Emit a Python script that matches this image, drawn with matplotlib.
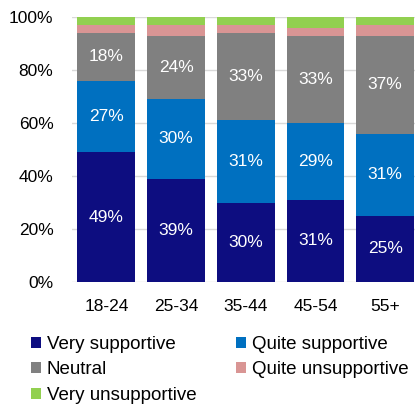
import numpy as np
import matplotlib.pyplot as plt

plt.rcParams['font.family'] = ['Liberation Sans', 'DejaVu Sans']

age_groups = ['18-24', '25-34', '35-44', '45-54', '55+']
very_supportive = [49, 39, 30, 31, 25]
quite_supportive = [27, 30, 31, 29, 31]
neutral = [18, 24, 33, 33, 37]
quite_unsupportive = [3, 4, 3, 3, 4]
very_unsupportive = [3, 3, 3, 4, 3]

series = [
    ('Very supportive', very_supportive, '#0D0D80', True),
    ('Quite supportive', quite_supportive, '#0070C0', True),
    ('Neutral', neutral, '#808080', True),
    ('Quite unsupportive', quite_unsupportive, '#D99594', False),
    ('Very unsupportive', very_unsupportive, '#92D050', False),
]

fig = plt.figure(figsize=(4.15, 4.07), dpi=100)
ax = fig.add_axes([71.5 / 415, 125 / 407, 348.5 / 415, 265 / 407])

x = np.arange(len(age_groups))
bottom = np.zeros(len(age_groups))
handles = []
for name, vals, color, show in series:
    vals = np.array(vals, dtype=float)
    bars = ax.bar(x, vals, bottom=bottom, width=0.83, color=color,
                  label=name, zorder=3)
    handles.append(bars)
    if show:
        for xi, b, v in zip(x, bottom, vals):
            ax.text(xi, b + v / 2, f'{int(v)}%', ha='center', va='center',
                    color='white', fontsize=12.5, zorder=4)
    bottom += vals

ax.set_xlim(-0.5, len(age_groups) - 0.5)
ax.set_ylim(0, 100)
ax.set_yticks(range(0, 101, 20))
ax.set_yticklabels([f'{v}%' for v in range(0, 101, 20)])
ax.set_xticks(x)
ax.set_xticklabels(age_groups)
ax.tick_params(axis='both', length=0, labelsize=12.5)
ax.tick_params(axis='y', pad=13)
ax.tick_params(axis='x', pad=12)
ax.grid(axis='y', color='#D9D9D9', linewidth=1, zorder=0)
for s in ax.spines.values():
    s.set_visible(False)

# legend fills column by column, so order the handles to read row by row
order = [0, 2, 4, 1, 3]
fig.legend(handles=[handles[i] for i in order], loc='upper left',
           bbox_to_anchor=(31 / 415, 1 - 336 / 407),
           ncol=2, frameon=False, fontsize=13.5, handlelength=0.55,
           handleheight=0.55, handletextpad=0.3, columnspacing=2.1,
           labelspacing=0.45, borderaxespad=0, borderpad=0)

plt.savefig('out.png', dpi=100)
plt.close()
